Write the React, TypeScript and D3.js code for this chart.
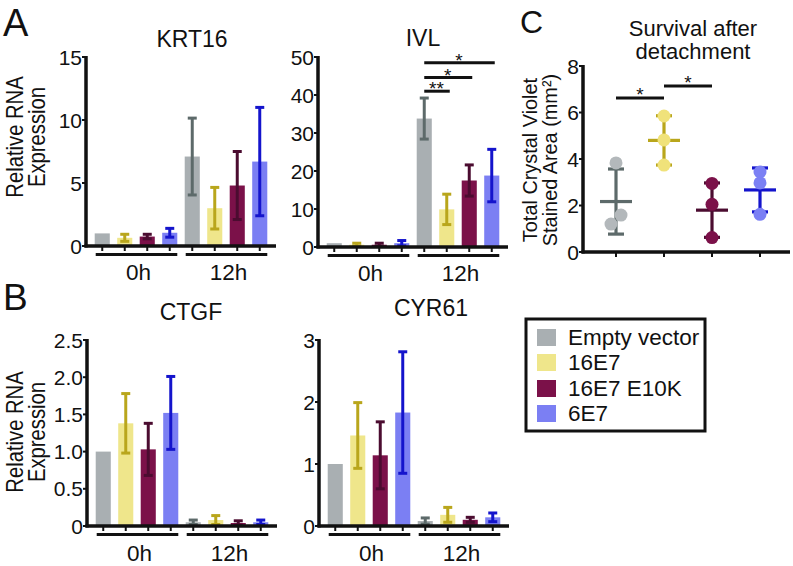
import React from "react";
import * as d3 from "d3";

const FONT = "'Liberation Sans', Arial, Helvetica, sans-serif";

// ---- data ----
const groups = ["Empty vector", "16E7", "16E7 E10K", "6E7"];
const timepoints = ["0h", "12h"];

const krt16Mean = [1.0, 0.65, 0.75, 1.05, 7.1, 3.0, 4.8, 6.7];
const krt16Err = [0, 0.28, 0.18, 0.35, 3.05, 1.65, 2.7, 4.3];
const krt16Ticks = [0, 5, 10, 15];

const ivlMean = [1.0, 0.6, 0.6, 1.0, 33.8, 9.9, 17.5, 18.8];
const ivlErr = [0, 0.4, 0.4, 0.7, 5.4, 4.0, 4.1, 6.9];
const ivlTicks = [0, 10, 20, 30, 40, 50];
const ivlSig = [
  { from: 4, to: 5, value: 41, label: "**" },
  { from: 4, to: 6, value: 44.6, label: "*" },
  { from: 4, to: 7, value: 48.5, label: "*" },
];

const ctgfMean = [1.0, 1.38, 1.03, 1.52, 0.05, 0.08, 0.04, 0.05];
const ctgfErr = [0, 0.4, 0.35, 0.49, 0.03, 0.06, 0.03, 0.03];
const ctgfTicks = [0, 0.5, 1.0, 1.5, 2.0, 2.5];

const cyr61Mean = [1.0, 1.46, 1.14, 1.83, 0.08, 0.18, 0.1, 0.14];
const cyr61Err = [0, 0.53, 0.54, 0.98, 0.05, 0.12, 0.04, 0.07];
const cyr61Ticks = [0, 1, 2, 3];

const survPoints = [
  [3.83, 1.2, 1.59],
  [5.85, 4.82, 3.74],
  [2.95, 2.05, 0.62],
  [3.44, 2.97, 1.62],
];
const survMean = [2.17, 4.8, 1.8, 2.67];
const survSD = [1.4, 1.06, 1.17, 0.945];
const survTicks = [0, 2, 4, 6, 8];
const survSig = [
  { from: 0, to: 1, value: 6.62, label: "*" },
  { from: 1, to: 2, value: 7.14, label: "*" },
];

// ---- styles ----
const barFill = ["#a9afb2", "#efe68b", "#7b1149", "#7b7ff3"];
const errColor = ["#5d6a6a", "#b9a61c", "#4b0c30", "#1414cc"];
const ptFill = ["#b3b8bb", "#f0e27a", "#7b1149", "#7b80f4"];
const jitter = [[0, -5, 5], [0, 0, 0], [0, 0, 0], [0, 0, 0]];

type Sig = { from: number; to: number; value: number; label: string };

function BarPanel(props: {
  x0: number; y0: number; yTop: number; max: number; ticks: number[];
  fmt: (v: number) => string; means: number[]; errs: number[];
  title: string; titleX: number; titleY: number; sig?: Sig[]; labelGap: number;
}) {
  const { x0, y0, yTop, max, ticks, fmt, means, errs, title, titleX, titleY, sig, labelGap } = props;
  const y = d3.scaleLinear().domain([0, max]).range([y0, yTop]);
  const ids = d3.range(means.length);
  const xb = d3.scaleBand<number>().domain(ids).range([x0 + 5, x0 + 185]).paddingInner(0.33).paddingOuter(0.165);
  const bw = xb.bandwidth();
  const cx = (i: number) => (xb(i) as number) + bw / 2;
  return (
    <g>
      <text x={titleX} y={titleY} fontSize={23} textAnchor="middle">{title}</text>
      {ids.map((i) => (
        <rect key={"b" + i} x={xb(i)} y={y(means[i])} width={bw} height={y0 - y(means[i])} fill={barFill[i % 4]} />
      ))}
      {ids.filter((i) => errs[i] > 0).map((i) => (
        <g key={"e" + i} stroke={errColor[i % 4]} strokeWidth={3}>
          <line x1={cx(i)} x2={cx(i)} y1={y(Math.max(0, means[i] - errs[i]))} y2={y(means[i] + errs[i])} />
          <line x1={cx(i) - 4.5} x2={cx(i) + 4.5} y1={y(means[i] + errs[i])} y2={y(means[i] + errs[i])} />
          <line x1={cx(i) - 4.5} x2={cx(i) + 4.5} y1={y(Math.max(0, means[i] - errs[i]))} y2={y(Math.max(0, means[i] - errs[i]))} />
        </g>
      ))}
      {/* axes */}
      <line x1={x0} x2={x0} y1={y0 + 1.5} y2={yTop - 1} stroke="#111" strokeWidth={3.5} />
      <line x1={x0 - 1.5} x2={x0 + 190} y1={y0} y2={y0} stroke="#111" strokeWidth={3.5} />
      {ticks.map((t) => (
        <g key={"t" + t}>
          <line x1={x0 - 4} x2={x0} y1={y(t)} y2={y(t)} stroke="#111" strokeWidth={2} />
          <text x={x0 - 4} y={y(t)} fontSize={21} textAnchor="end" dominantBaseline="central">{fmt(t)}</text>
        </g>
      ))}
      {ids.map((i) => (
        <line key={"xt" + i} x1={cx(i)} x2={cx(i)} y1={y0} y2={y0 + 5} stroke="#111" strokeWidth={2} />
      ))}
      {timepoints.map((tp, g) => {
        const a = (xb(g * 4) as number) + 1;
        const b = (xb(g * 4 + 3) as number) + bw;
        return (
          <g key={tp}>
            <line x1={a} x2={b} y1={y0 + 8.5} y2={y0 + 8.5} stroke="#111" strokeWidth={3} />
            <text x={(a + b) / 2 + 2} y={y0 + labelGap} fontSize={22.5} textAnchor="middle">{tp}</text>
          </g>
        );
      })}
      {(sig || []).map((s, k) => (
        <g key={"s" + k}>
          <line x1={cx(s.from)} x2={cx(s.to) + 3} y1={y(s.value)} y2={y(s.value)} stroke="#111" strokeWidth={3} />
          <text x={(cx(s.from) + cx(s.to)) / 2 + 1} y={y(s.value) + 4} fontSize={19} textAnchor="middle">{s.label}</text>
        </g>
      ))}
    </g>
  );
}

function YLabel({ x1, x2, cy, l1, l2, size, sx }: { x1: number; x2: number; cy: number; l1: string; l2: string; size: number; sx: number }) {
  return (
    <g fontSize={size}>
      <text transform={`translate(${x1},${cy}) rotate(-90) scale(${sx},1)`} textAnchor="middle">{l1}</text>
      <text transform={`translate(${x2},${cy}) rotate(-90) scale(${sx},1)`} textAnchor="middle">{l2}</text>
    </g>
  );
}

function SurvivalPanel() {
  const y = d3.scaleLinear().domain([0, 8]).range([252, 66]);
  const x = d3.scalePoint<string>().domain(groups).range([616, 760]);
  const ax = 583;
  return (
    <g>
      <text x={693} y={36} fontSize={22} textAnchor="middle">Survival after</text>
      <text x={693} y={59} fontSize={22} textAnchor="middle">detachment</text>
      <YLabel x1={537} x2={557} cy={160} l1="Total Crystal Violet" l2="Stained Area (mm²)" size={20.5} sx={0.97} />
      <line x1={ax} x2={ax} y1={253.5} y2={65} stroke="#111" strokeWidth={3.5} />
      <line x1={ax - 1.5} x2={790} y1={252} y2={252} stroke="#111" strokeWidth={3.5} />
      {survTicks.map((t) => (
        <g key={t}>
          <line x1={ax - 4} x2={ax} y1={y(t)} y2={y(t)} stroke="#111" strokeWidth={2} />
          <text x={ax - 4} y={y(t)} fontSize={21} textAnchor="end" dominantBaseline="central">{t}</text>
        </g>
      ))}
      {groups.map((g, i) => {
        const cx = x(g) as number;
        const lo = y(survMean[i] - survSD[i]);
        const hi = y(survMean[i] + survSD[i]);
        const m = y(survMean[i]);
        return (
          <g key={g}>
            <line x1={cx} x2={cx} y1={252} y2={257} stroke="#111" strokeWidth={2} />
            <g stroke={errColor[i]} strokeWidth={3.2}>
              <line x1={cx} x2={cx} y1={lo} y2={hi} />
              <line x1={cx - 8} x2={cx + 8} y1={lo} y2={lo} />
              <line x1={cx - 8} x2={cx + 8} y1={hi} y2={hi} />
              <line x1={cx - 16} x2={cx + 16} y1={m} y2={m} />
            </g>
            {survPoints[i].map((v, k) => (
              <circle key={k} cx={cx + jitter[i][k]} cy={y(v)} r={6.5} fill={ptFill[i]} />
            ))}
          </g>
        );
      })}
      {survSig.map((s, k) => {
        const a = x(groups[s.from]) as number;
        const b = x(groups[s.to]) as number;
        return (
          <g key={k}>
            <line x1={a} x2={b} y1={y(s.value)} y2={y(s.value)} stroke="#111" strokeWidth={3} />
            <text x={(a + b) / 2} y={y(s.value) + 3} fontSize={19} textAnchor="middle">{s.label}</text>
          </g>
        );
      })}
    </g>
  );
}

function Legend() {
  const rows = [345, 370, 396, 421];
  return (
    <g>
      <rect x={526} y={319} width={179} height={112} fill="white" stroke="#111" strokeWidth={3} />
      {groups.map((g, i) => (
        <g key={g}>
          <rect x={537} y={rows[i] - 16} width={19} height={17} fill={barFill[i]} />
          <text x={568} y={rows[i]} fontSize={22.5}>{g}</text>
        </g>
      ))}
    </g>
  );
}

export default function App() {
  const f1 = (v: number) => (v === 0 ? "0" : d3.format(".1f")(v));
  const f0 = (v: number) => String(v);
  return (
    <svg width={793} height={566} style={{ position: "absolute", left: 0, top: 0, background: "white" }}
      fontFamily={FONT} fill="#111">
      <text x={3} y={36} fontSize={38}>A</text>
      <text x={3} y={310} fontSize={37}>B</text>
      <text x={520} y={33} fontSize={32}>C</text>

      <YLabel x1={23} x2={45} cy={137} l1="Relative RNA" l2="Expression" size={23} sx={0.88} />
      <YLabel x1={23} x2={45} cy={432} l1="Relative RNA" l2="Expression" size={23} sx={0.88} />

      <BarPanel x0={86} y0={246} yTop={57} max={15} ticks={krt16Ticks} fmt={f0}
        means={krt16Mean} errs={krt16Err} title="KRT16" titleX={192} titleY={47} labelGap={34} />
      <BarPanel x0={318} y0={247} yTop={57} max={50} ticks={ivlTicks} fmt={f0}
        means={ivlMean} errs={ivlErr} title="IVL" titleX={423} titleY={46} sig={ivlSig} labelGap={34} />
      <BarPanel x0={87} y0={526} yTop={340} max={2.5} ticks={ctgfTicks} fmt={f1}
        means={ctgfMean} errs={ctgfErr} title="CTGF" titleX={191} titleY={320} labelGap={35} />
      <BarPanel x0={319} y0={526} yTop={340} max={3} ticks={cyr61Ticks} fmt={f0}
        means={cyr61Mean} errs={cyr61Err} title="CYR61" titleX={431} titleY={316} labelGap={35} />

      <SurvivalPanel />
      <Legend />
    </svg>
  );
}
